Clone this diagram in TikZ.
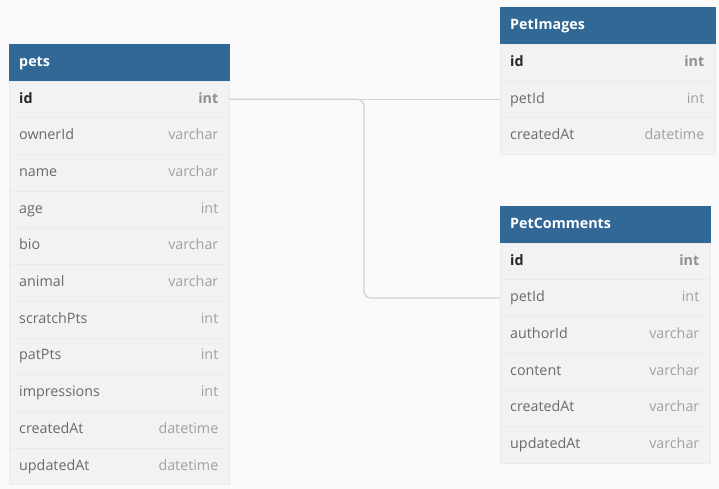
\documentclass[tikz,border=0pt]{standalone}
\usepackage{fontspec}
\setmainfont{Open Sans}
\definecolor{bg}{HTML}{FAFAFA}
\definecolor{body}{HTML}{F2F2F2}
\definecolor{sep}{HTML}{EBEBEB}
\definecolor{head}{HTML}{316896}
\definecolor{fname}{HTML}{6A6A6A}
\definecolor{ftype}{HTML}{A0A0A0}
\definecolor{conn}{HTML}{D2D2D2}
\tikzset{
  rowbox/.style={fill=body, draw=sep, line width=0.5pt, minimum height=36.7pt, inner sep=0pt, anchor=north west},
  headbox/.style={fill=head, draw=head, line width=0.5pt, minimum height=36.7pt, inner sep=0pt, anchor=north west},
  txt/.style={inner sep=0pt, text height=10.5pt, text depth=3pt, font=\fontsize{14.3}{16}\selectfont},
  headtxt/.style={txt, text=white, font=\fontsize{14.3}{16}\selectfont\bfseries, anchor=west},
  fieldtxt/.style={txt, text=fname, anchor=west},
  typetxt/.style={txt, text=ftype, anchor=east},
  pkfield/.style={txt, text=black!85, font=\fontsize{14.3}{16}\selectfont\bfseries, anchor=west},
  pktype/.style={txt, text=ftype!90!black, font=\fontsize{14.3}{16}\selectfont\bfseries, anchor=east},
  connline/.style={draw=conn, line width=1.3pt, rounded corners=7pt}
}
% #1 name, #2 x, #3 y, #4 width, #5 title
\newcommand\ehead[5]{%
  \node[headbox, minimum width=#4pt] (#1) at (#2,#3) {};
  \node[headtxt] at ([xshift=10pt]#1.west) {#5};}
% #1 name, #2 x, #3 y, #4 width, #5 field, #6 type
\newcommand\erow[6]{%
  \node[rowbox, minimum width=#4pt] (#1) at (#2,#3) {};
  \node[fieldtxt] at ([xshift=10pt]#1.west) {#5};
  \node[typetxt] at ([xshift=-11pt]#1.east) {#6};}
\newcommand\epk[6]{%
  \node[rowbox, minimum width=#4pt] (#1) at (#2,#3) {};
  \node[pkfield] at ([xshift=10pt]#1.west) {#5};
  \node[pktype] at ([xshift=-11pt]#1.east) {#6};}
\begin{document}
\begin{tikzpicture}[x=1pt,y=-1pt]
\fill[bg] (0,0) rectangle (719,489);
\useasboundingbox (0,0) rectangle (719,489);
% pets
\ehead{pets}{9}{44}{220}{pets}
\epk{pets-id}{9}{80.7}{220}{id}{int}
\erow{pets-ownerId}{9}{117.4}{220}{ownerId}{varchar}
\erow{pets-name}{9}{154.1}{220}{name}{varchar}
\erow{pets-age}{9}{190.8}{220}{age}{int}
\erow{pets-bio}{9}{227.5}{220}{bio}{varchar}
\erow{pets-animal}{9}{264.2}{220}{animal}{varchar}
\erow{pets-scratch}{9}{300.9}{220}{scratchPts}{int}
\erow{pets-pat}{9}{337.6}{220}{patPts}{int}
\erow{pets-impr}{9}{374.3}{220}{impressions}{int}
\erow{pets-created}{9}{411.0}{220}{createdAt}{datetime}
\erow{pets-updated}{9}{447.7}{220}{updatedAt}{datetime}
% PetImages
\ehead{pi}{500}{7.3}{215}{PetImages}
\epk{pi-id}{500}{44}{215}{id}{int}
\erow{pi-petId}{500}{80.7}{215}{petId}{int}
\erow{pi-created}{500}{117.4}{215}{createdAt}{datetime}
% PetComments
\ehead{pc}{500}{206}{210}{PetComments}
\epk{pc-id}{500}{242.7}{210}{id}{int}
\erow{pc-petId}{500}{279.4}{210}{petId}{int}
\erow{pc-author}{500}{316.1}{210}{authorId}{varchar}
\erow{pc-content}{500}{352.8}{210}{content}{varchar}
\erow{pc-created}{500}{389.5}{210}{createdAt}{varchar}
\erow{pc-updated}{500}{426.2}{210}{updatedAt}{varchar}
% connectors
\coordinate (mid) at (364,0);
\draw[connline] (pets-id.east) -- (pi-petId.west);
\draw[connline] (pets-id.east) -| (mid |- pc-petId.west) -- (pc-petId.west);
\end{tikzpicture}
\end{document}
